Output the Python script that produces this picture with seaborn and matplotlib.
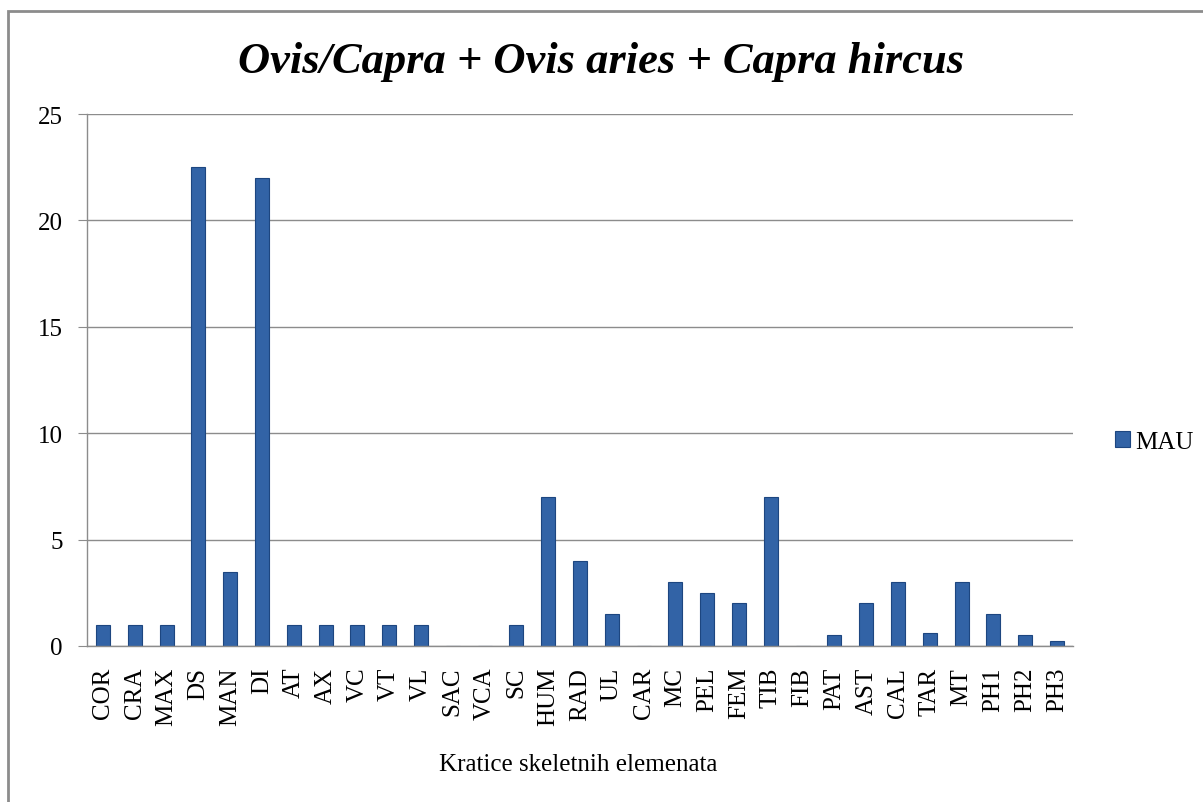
import matplotlib
matplotlib.use("Agg")
import matplotlib.pyplot as plt
import seaborn as sns
from matplotlib.patches import Rectangle

# Data
categories = ["COR", "CRA", "MAX", "DS", "MAN", "DI", "AT", "AX", "VC", "VT", "VL",
              "SAC", "VCA", "SC", "HUM", "RAD", "UL", "CAR", "MC", "PEL", "FEM",
              "TIB", "FIB", "PAT", "AST", "CAL", "TAR", "MT", "PH1", "PH2", "PH3"]
mau = [1, 1, 1, 22.5, 3.5, 22, 1, 1, 1, 1, 1,
       0, 0, 1, 7, 4, 1.5, 0, 3, 2.5, 2,
       7, 0, 0.5, 2, 3, 0.6, 3, 1.5, 0.5, 0.25]
y_ticks = [0, 5, 10, 15, 20, 25]

sns.set_style("white")
plt.rcParams['font.family'] = ['Liberation Serif', 'DejaVu Serif']
plt.rcParams['text.color'] = 'black'
plt.rcParams['xtick.color'] = 'black'
plt.rcParams['ytick.color'] = 'black'
plt.rcParams['axes.labelcolor'] = 'black'

W, H = 1203, 803
fig = plt.figure(figsize=(W / 100, H / 100), dpi=100)
ax = fig.add_axes([87 / W, 1 - 647 / H, (1073 - 87) / W, (647 - 115) / H])

sns.barplot(x=categories, y=mau, color="#3263A6", width=0.44, label="MAU",
            edgecolor="#1D4680", linewidth=0.8, saturation=1, ax=ax)

ax.set_xlim(-0.5, len(categories) - 0.5)
ax.set_ylim(0, 25)
ax.set_yticks(y_ticks)
ax.set_yticklabels([str(t) for t in y_ticks], fontsize=18)
ax.tick_params(axis='y', length=6.5, color="#8c8c8c", direction='out', left=True, pad=11)
ax.tick_params(axis='x', length=0, pad=15)
plt.setp(ax.get_xticklabels(), rotation=90, fontsize=18)
ax.yaxis.grid(True, color="#8c8c8c", linewidth=1)
ax.set_axisbelow(True)

for side in ["top", "right"]:
    ax.spines[side].set_visible(False)
for side in ["left", "bottom"]:
    ax.spines[side].set_color("#8c8c8c")
    ax.spines[side].set_linewidth(1)

ax.set_xlabel("")
ax.set_ylabel("")
fig.text(578 / W, 1 - 765 / H, "Kratice skeletnih elemenata", ha="center", va="center",
         fontsize=18)

fig.text(0.5, 1 - 62 / H, "Ovis/Capra + Ovis aries + Capra hircus",
         ha="center", va="center", fontsize=32, fontstyle="italic", fontweight="bold")

ax.legend(loc="center left", bbox_to_anchor=(1.02, 0.3833), frameon=False,
          fontsize=18, handlelength=0.6, handleheight=0.6, handletextpad=0.2)

# outer chart border (left and top visible, the rest runs off the image)
fig.patches.append(Rectangle((8 / W, -0.01), 1.02, 1 - 12 / H + 0.01, transform=fig.transFigure,
                             fill=False, edgecolor="#8c8c8c", linewidth=2))

fig.savefig("out.png", dpi=100)
